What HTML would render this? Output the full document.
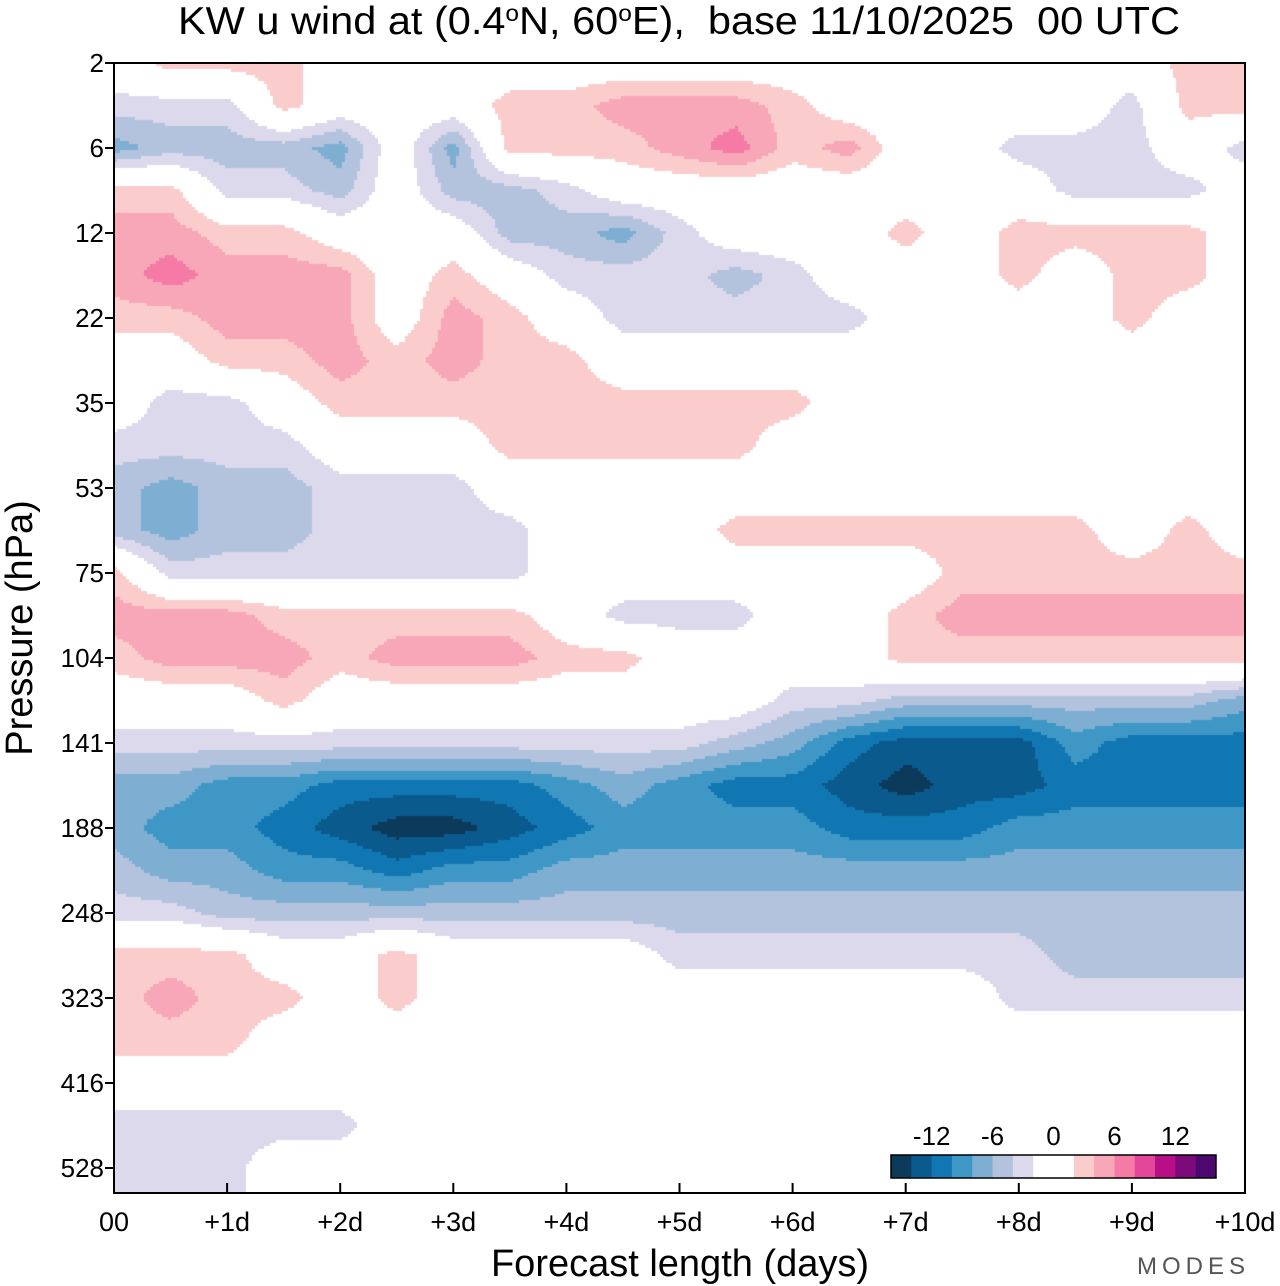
<!DOCTYPE html>
<html><head><meta charset="utf-8"><style>
body{margin:0;background:#fff;width:1280px;height:1286px;overflow:hidden;font-family:"Liberation Sans",sans-serif}
#wrap{position:relative;width:1280px;height:1286px}
</style></head><body><div id="wrap">
<svg id="svg" width="1280" height="1286" style="position:absolute;left:0;top:0">
<foreignObject x="114" y="63" width="1131" height="1130"><canvas xmlns="http://www.w3.org/1999/xhtml" id="cv" width="1131" height="1130"></canvas></foreignObject>
<g id="axes"></g>
</svg></div>
<script>
const xTicks=["00","+1d","+2d","+3d","+4d","+5d","+6d","+7d","+8d","+9d","+10d"];
const yTicks=["2","6","12","22","35","53","75","104","141","188","248","323","416","528"];
const levelBounds=[-14,-12,-10,-8,-6,-4,-2,2,4,6,8,10,12,14];
const levelColors=["#0b3a5a","#0b5a8e","#1177b3","#3f97c6","#7eafd3","#b3c3de","#dcd9ec","#ffffff","#fbcccc","#f7a7b7","#f57aa6","#e4479a","#b80f86","#7b0b7a","#4d0870"];
const barLabels=[-12,-6,0,6,12];
// u wind grid: rows = half pressure-tick steps from 2 hPa down, cols = 0.5-day steps
const uGrid=[
[0,3,3,3,0,0,0,0,0,0,0,0,0,0,0,0,0,0,0,3,3],
[-3,-3,-3,3,0,0,0,3,3,5,5,5,3,0,0,0,0,0,-3,3,3],
[-7,-5,-5,-5,-7,0,-7,3,3,3,5,7,3,5,0,0,-3,-3,-3,0,-3],
[3,3,-3,-3,-5,0,-5,-5,-3,0,0,0,0,0,0,0,0,-3,-3,-3,0],
[5,5,3,3,0,0,0,-5,-5,-7,-3,0,0,0,3,0,3,3,3,3,0],
[5,7,5,5,5,0,3,0,-3,-3,-3,-5,-3,0,0,0,3,0,3,3,0],
[3,3,5,5,5,0,5,3,0,-3,-3,-3,-3,-3,0,0,0,0,3,0,0],
[0,0,3,3,5,3,5,3,3,0,0,0,0,0,0,0,0,0,0,0,0],
[0,-3,-3,0,3,3,3,3,3,3,3,3,3,0,0,0,0,0,0,0,0],
[-3,-3,-3,-3,0,0,0,3,3,3,3,3,0,0,0,0,0,0,0,0,0],
[-5,-7,-5,-5,-3,-3,-3,0,0,0,0,0,0,0,0,0,0,0,0,0,0],
[-5,-7,-5,-5,-3,-3,-3,-3,0,0,0,3,3,3,3,3,3,3,0,3,0],
[3,-3,-3,-3,-3,-3,-3,-3,0,0,0,0,0,0,0,3,3,3,3,3,3],
[5,5,5,3,3,3,3,3,0,-3,-3,-3,0,0,3,5,5,5,5,5,5],
[3,5,5,5,3,5,5,5,3,3,0,0,0,0,3,3,3,3,3,3,3],
[0,0,0,3,0,0,0,0,0,0,0,0,-3,-3,-5,-5,-5,-5,-5,-5,-7],
[-3,-3,-3,-3,-3,-3,-3,-3,-3,-3,-3,-5,-7,-11,-13,-13,-13,-9,-11,-11,-11],
[-7,-7,-9,-9,-11,-11,-11,-11,-9,-7,-9,-11,-11,-13,-15,-13,-13,-11,-11,-11,-11],
[-7,-9,-9,-11,-13,-15,-15,-13,-11,-9,-9,-9,-9,-11,-11,-11,-9,-9,-9,-9,-9],
[-5,-7,-7,-9,-9,-11,-9,-9,-7,-7,-7,-7,-7,-7,-7,-7,-7,-7,-7,-7,-7],
[-3,-3,-5,-5,-5,-5,-5,-5,-5,-5,-5,-5,-5,-5,-5,-5,-5,-5,-5,-5,-5],
[3,3,3,0,0,3,0,0,0,0,-3,-3,-3,-3,-3,-3,-3,-5,-5,-5,-5],
[3,5,3,3,0,3,0,0,0,0,0,0,0,0,0,0,-3,-3,-3,-3,-3],
[3,3,3,0,0,0,0,0,0,0,0,0,0,0,0,0,0,0,0,0,0],
[0,0,0,0,0,0,0,0,0,0,0,0,0,0,0,0,0,0,0,0,0],
[-3,-3,-3,-3,-3,0,0,0,0,0,0,0,0,0,0,0,0,0,0,0,0],
[-3,-3,-3,0,0,0,0,0,0,0,0,0,0,0,0,0,0,0,0,0,0]
];
const X0=114,X1=1245,Y0=63,Y1=1193,YT=85;
const xScale=d=>X0+(X1-X0)*d/10;           // days -> px
const yScale=i=>Y0+i*YT;                   // pressure tick index -> px
const colOf=px=>(px-X0)/(X1-X0)*10/0.5;
const rowOf=py=>(py-Y0)/(YT/2);
function colorFor(v){let k=0;while(k<levelBounds.length&&v>=levelBounds[k])k++;return levelColors[k];}
function sample(r,c){const R=uGrid.length-1,C=uGrid[0].length-1;
 r=Math.max(0,Math.min(R,r));c=Math.max(0,Math.min(C,c));
 const r0=Math.min(Math.floor(r),R-1),c0=Math.min(Math.floor(c),C-1),fr=r-r0,fc=c-c0;
 return uGrid[r0][c0]*(1-fr)*(1-fc)+uGrid[r0][c0+1]*(1-fr)*fc+uGrid[r0+1][c0]*fr*(1-fc)+uGrid[r0+1][c0+1]*fr*fc;}
const ctx=document.getElementById('cv').getContext('2d');
const S=3;
for(let py=Y0;py<Y1;py+=S){for(let px=X0;px<X1;px+=S){
 const v=sample(rowOf(py+S/2),colOf(px+S/2));const col=colorFor(v);
 if(col!=="#ffffff"){ctx.fillStyle=col;ctx.fillRect(px-X0,py-Y0,S,S);}}}
const NS="http://www.w3.org/2000/svg",g=document.getElementById('axes');
function mk(t,a,txt){const e=document.createElementNS(NS,t);for(const k in a)e.setAttribute(k,a[k]);if(txt!==undefined)e.textContent=txt;g.appendChild(e);return e;}
let e=mk('rect',{x:X0,y:Y0,width:X1-X0,height:Y1-Y0,fill:'none',stroke:'#000','stroke-width':2});


xTicks.forEach((t,i)=>{const x=xScale(i);
 let l=mk('line',{x1:x,x2:x,y1:Y1,y2:Y1-10,stroke:'#000','stroke-width':2});
 
 
 let tx=mk('text',{x:x,y:Y1+38,'text-anchor':'middle','font-size':27},t);
 
 });
yTicks.forEach((t,i)=>{const y=yScale(i);
 let l=mk('line',{x1:X0-9,x2:X0,y1:y,y2:y,stroke:'#000','stroke-width':2});
 
 
 let tx=mk('text',{x:X0-10,y:y+9,'text-anchor':'end','font-size':26},t);
 
 });
e=mk('text',{x:178,y:34,'font-size':39,textLength:1002,lengthAdjust:'spacingAndGlyphs','xml:space':'preserve',style:'white-space:pre'},'');
e.innerHTML='KW u wind at (0.4<tspan baseline-shift="super" font-size="23">o</tspan>N, 60<tspan baseline-shift="super" font-size="23">o</tspan>E),  base 11/10/2025  00 UTC';


e=mk('text',{x:680,y:1276,'text-anchor':'middle','font-size':38},'Forecast length (days)');


e=mk('text',{x:0,y:0,'text-anchor':'middle','font-size':38,transform:'translate(32,628) rotate(-90)'},'Pressure (hPa)');


e=mk('text',{x:1250,y:1274,'text-anchor':'end','font-size':24,fill:'#555','letter-spacing':'5'},'MODES');


const BX=891,BW=325/16,BY=1155,BH=23;
levelColors.forEach((c,i)=>{const slot=i<8?i:i+1;const w=i===7?BW*2:BW;
 let r=mk('rect',{x:BX+slot*BW,y:BY,width:w+0.5,height:BH,fill:c});
 
 });
e=mk('rect',{x:BX,y:BY,width:325,height:BH,fill:'none',stroke:'#000','stroke-width':1.5});


barLabels.forEach(v=>{const x=BX+(v+16)/2*BW;
 let t=mk('text',{x:x,y:BY-10,'text-anchor':'middle','font-size':26},String(v));
 
 });
</script></body></html>
